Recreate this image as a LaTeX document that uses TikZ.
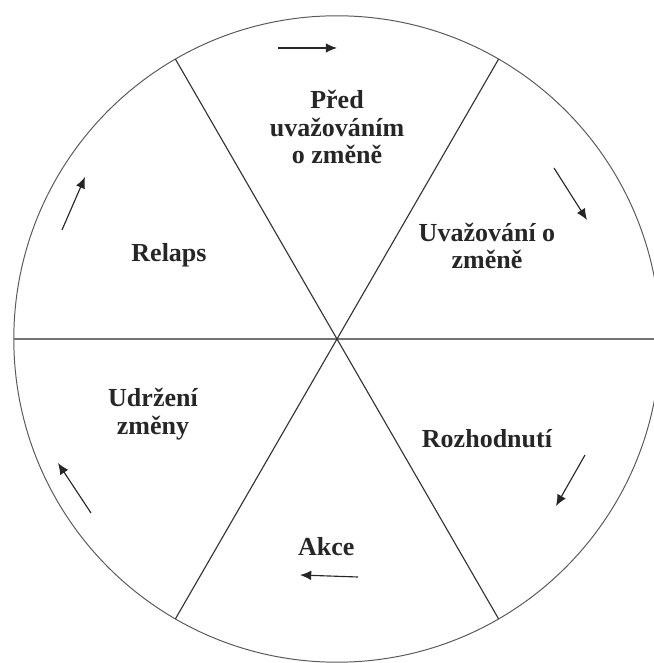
\documentclass[tikz,border=0pt]{standalone}
\usepackage{fontspec}
\setmainfont{Liberation Serif}
\usepackage{tikz}
\usetikzlibrary{arrows.meta}

\begin{document}
\begin{tikzpicture}[
    label/.style={align=center, font=\bfseries\fontsize{18.5}{19.5}\selectfont,
                text=black!85, inner sep=0pt},
    spoke/.style={draw=black!80, line width=0.8pt},
    axis/.style={draw=black!55, line width=1.5pt},
    rim/.style={draw=black!65, line width=0.7pt},
    turn/.style={-{Latex[length=2.8mm, width=2.4mm]}, draw=black!85, line width=0.8pt}
]
    \clip (-8.425,-8.1) rectangle (7.925,8.475);
    \coordinate (c) at (0,0);

    % wheel
    \draw[rim] (c) circle (8.08);
    \draw[axis] (180:8.08) -- (8.2,0);
    \draw[spoke] (120:8.08) -- (-60:8.08);
    \draw[spoke] (60:8.08) -- (-120:8.08);

    % stages
    \node[label] (pred) at (0,5.3) {Před\\uvažováním\\o změně};
    \node[label] (uvaz) at (3.75,2.33) {Uvažování o\\změně};
    \node[label] (rozh) at (3.75,-2.48) {Rozhodnutí};
    \node[label] (akce) at (-0.27,-5.18) {Akce};
    \node[label] (udrz) at (-4.6,-1.88) {Udržení\\změny};
    \node[label] (relaps) at (-4.2,2.1) {Relaps};

    % direction of the cycle
    \coordinate (t1) at (-1.475,7.275); \coordinate (t2) at (0,7.275);
    \coordinate (r1) at (5.425,4.275);  \coordinate (r2) at (6.25,2.975);
    \coordinate (q1) at (6.2,-2.9);     \coordinate (q2) at (5.475,-4.175);
    \coordinate (b1) at (0.525,-5.95);  \coordinate (b2) at (-0.925,-5.9);
    \coordinate (p1) at (-6.15,-4.35);  \coordinate (p2) at (-6.975,-3.1);
    \coordinate (l1) at (-6.875,2.725); \coordinate (l2) at (-6.3,4.05);
    \draw[turn] (t1) -- (t2);
    \draw[turn] (r1) -- (r2);
    \draw[turn] (q1) -- (q2);
    \draw[turn] (b1) -- (b2);
    \draw[turn] (p1) -- (p2);
    \draw[turn] (l1) -- (l2);
\end{tikzpicture}
\end{document}
